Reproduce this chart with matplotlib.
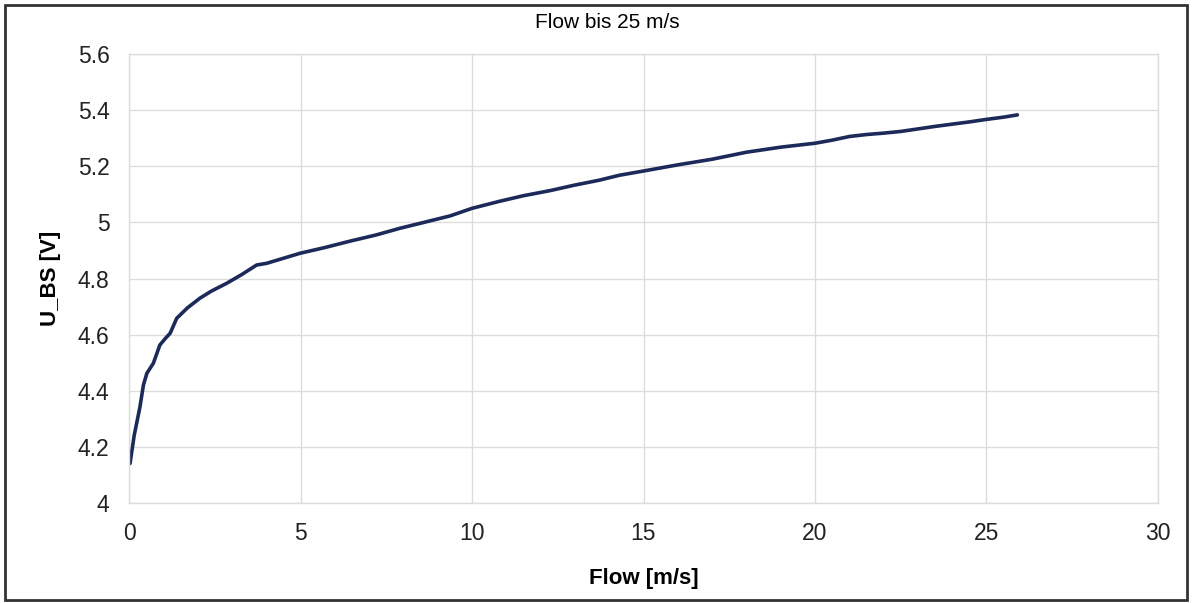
import matplotlib
matplotlib.use("Agg")
import matplotlib.pyplot as plt
from matplotlib.patches import Rectangle

plt.rcParams['font.family'] = ['Liberation Sans', 'DejaVu Sans']

flow = [0.03, 0.15, 0.32, 0.42, 0.52, 0.71, 0.9, 1.05, 1.2, 1.39, 1.7, 2.07, 2.4, 2.85, 3.3,
        3.72, 4.01, 4.5, 4.99, 5.7, 6.44, 7.2, 7.9, 8.6, 9.36, 10.0, 10.8, 11.5, 12.27, 13.0,
        13.7, 14.3, 15.0, 16.0, 17.0, 18.0, 19.0, 20.0, 20.5, 21.0, 21.5, 22.0, 22.5, 23.0,
        23.5, 24.0, 24.5, 25.0, 25.5, 25.9]
u_bs = [4.141, 4.24, 4.343, 4.42, 4.462, 4.498, 4.563, 4.585, 4.605, 4.658, 4.695, 4.73,
        4.755, 4.783, 4.815, 4.848, 4.854, 4.872, 4.89, 4.91, 4.933, 4.955, 4.979, 5.0,
        5.023, 5.05, 5.075, 5.095, 5.113, 5.133, 5.15, 5.168, 5.183, 5.205, 5.225, 5.25,
        5.268, 5.282, 5.293, 5.306, 5.313, 5.318, 5.324, 5.333, 5.342, 5.35, 5.358, 5.367,
        5.375, 5.383]

x_ticks = [0, 5, 10, 15, 20, 25, 30]
y_ticks = [4, 4.2, 4.4, 4.6, 4.8, 5, 5.2, 5.4, 5.6]
y_tick_labels = ['4', '4.2', '4.4', '4.6', '4.8', '5', '5.2', '5.4', '5.6']

fig = plt.figure(figsize=(11.92, 6.03), dpi=100)
ax = fig.add_axes([129/1192, 1 - 503/603, (1158 - 129)/1192, (503 - 54)/603])

ax.plot(flow, u_bs, color='#1c2a5a', linewidth=2.6, solid_capstyle='round')

ax.set_xlim(0, 30)
ax.set_ylim(4, 5.6)
ax.set_xticks(x_ticks)
ax.set_yticks(y_ticks)
ax.set_yticklabels(y_tick_labels)
ax.grid(True, color='#dcdcdc', linewidth=1.0)
ax.set_axisbelow(True)
for s in ax.spines.values():
    s.set_color('#dcdcdc')
    s.set_linewidth(1.0)
ax.tick_params(axis='both', length=0, labelsize=16.5, colors='#222222')
ax.tick_params(axis='y', pad=14)
ax.tick_params(axis='x', pad=14)

ax.set_xlabel('Flow [m/s]', fontsize=16, fontweight='bold', labelpad=16)
ax.set_ylabel('U_BS [V]', fontsize=16, fontweight='bold', labelpad=12)
fig.text(607/1192, 1 - 22/603, 'Flow bis 25 m/s', ha='center', va='center', fontsize=15)

fig.patches.append(Rectangle((5/1192, 3/603), 1182/1192, 595/603, transform=fig.transFigure,
                             fill=False, edgecolor='#333333', linewidth=2))

fig.savefig('out.png', dpi=100)
